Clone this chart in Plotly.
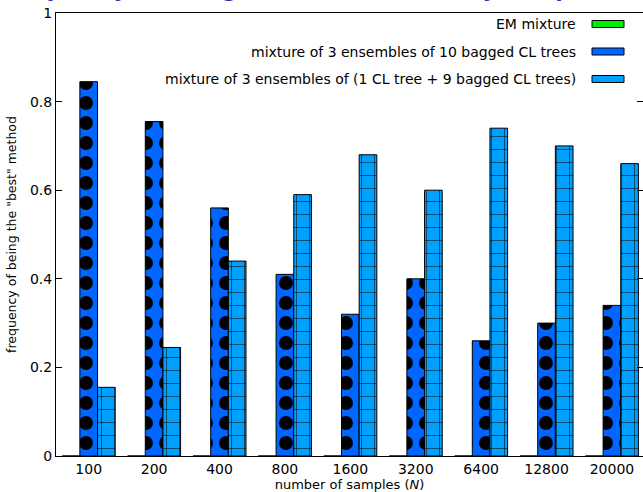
import plotly.graph_objects as go

categories = ["100", "200", "400", "800", "1600", "3200", "6400", "12800", "20000"]
em_mixture = [0, 0, 0, 0, 0, 0, 0, 0, 0]
bagged_10 = [0.845, 0.755, 0.56, 0.41, 0.32, 0.40, 0.26, 0.30, 0.34]
one_cl_9_bagged = [0.155, 0.245, 0.44, 0.59, 0.68, 0.60, 0.74, 0.70, 0.66]
series_names = [
    "EM mixture",
    "mixture of 3 ensembles of 10 bagged CL trees",
    "mixture of 3 ensembles of (1 CL tree + 9 bagged CL trees)",
]
y_ticks = [0, 0.2, 0.4, 0.6, 0.8, 1]
y_tick_text = ["0", "0.2", "0.4", "0.6", "0.8", "1"]

FONT = "DejaVu Sans"
W = 0.27
idx = list(range(len(categories)))

fig = go.Figure()
fig.add_bar(x=[i - W for i in idx], y=em_mixture, width=W, name=series_names[0],
            marker=dict(color="#00ee00", line=dict(color="black", width=1)))
fig.add_bar(x=idx, y=bagged_10, width=W, name=series_names[1],
            marker=dict(color="#0066ff", line=dict(color="black", width=1),
                        pattern=dict(shape=".", fgcolor="black", fgopacity=1, bgcolor="#0066ff",
                                     size=20, solidity=0.38, fillmode="overlay")))
fig.add_bar(x=[i + W for i in idx], y=one_cl_9_bagged, width=W, name=series_names[2],
            marker=dict(color="#00a0ff", line=dict(color="black", width=1),
                        pattern=dict(shape="+", fgcolor="#111111", fgopacity=1, bgcolor="#00a0ff",
                                     size=13, solidity=0.09, fillmode="overlay")))

# invisible trace to carry the right-hand mirrored ticks
fig.add_scatter(x=[None], y=[None], yaxis="y2", showlegend=False, hoverinfo="skip")

fig.update_layout(
    width=643, height=492,
    margin=dict(l=56, r=0, t=13, b=36),
    plot_bgcolor="white", paper_bgcolor="white",
    showlegend=False,
    barmode="overlay",
    font=dict(family=FONT, color="black", size=14),
    xaxis=dict(range=[-0.5, 8.475], tickmode="array", tickvals=idx, ticktext=categories,
               ticks="", showline=True, linecolor="black", linewidth=1, mirror=True,
               showgrid=False, zeroline=False, tickfont=dict(size=14),
               title=dict(text="number of samples (<i>N</i>)", font=dict(size=13), standoff=2)),
    yaxis=dict(range=[0, 1], tickmode="array", tickvals=y_ticks, ticktext=y_tick_text,
               ticks="inside", ticklen=6, tickcolor="black", showline=True, linecolor="black",
               linewidth=1, showgrid=False, zeroline=False, tickfont=dict(size=14),
               title=dict(text='frequency of being the "best" method', font=dict(size=12.5),
                          standoff=10)),
    yaxis2=dict(range=[0, 1], overlaying="y", side="right", tickmode="array", tickvals=y_ticks,
                ticks="inside", ticklen=6, tickcolor="black", showticklabels=False,
                showline=False, showgrid=False, zeroline=False),
)

# legend in gnuplot style: right-aligned text followed by a sample box
legend_rows = [
    (series_names[0], "#00ee00"),
    (series_names[1], "#0066ff"),
    (series_names[2], "#00a0ff"),
]
row_y = [24, 51.5, 79]
for (name, col), ry in zip(legend_rows, row_y):
    yp = 1 - (ry - 13) / 443
    h = 3.5 / 443
    fig.add_annotation(xref="paper", yref="paper", x=(578 - 56) / 587, y=yp, text=name,
                       showarrow=False, xanchor="right", yanchor="middle",
                       font=dict(size=14, family=FONT))
    fig.add_shape(type="rect", xref="paper", yref="paper",
                  x0=(592 - 56) / 587, x1=(624 - 56) / 587, y0=yp - h, y1=yp + h,
                  fillcolor=col, line=dict(color="black", width=1))

# slide title, mostly cut off at the top of the page
fig.add_annotation(xref="paper", yref="paper", x=-0.1, y=1, xanchor="left", yanchor="bottom",
                   yshift=9, showarrow=False,
                   text="<b>Frequency of being the best method, by sample size</b>",
                   font=dict(size=22, color="#3333b3", family=FONT))

fig.write_html(
    "out.html",
    config={"displayModeBar": False},
    post_script="document.body.style.margin='0px';document.body.style.overflow='hidden';",
)
